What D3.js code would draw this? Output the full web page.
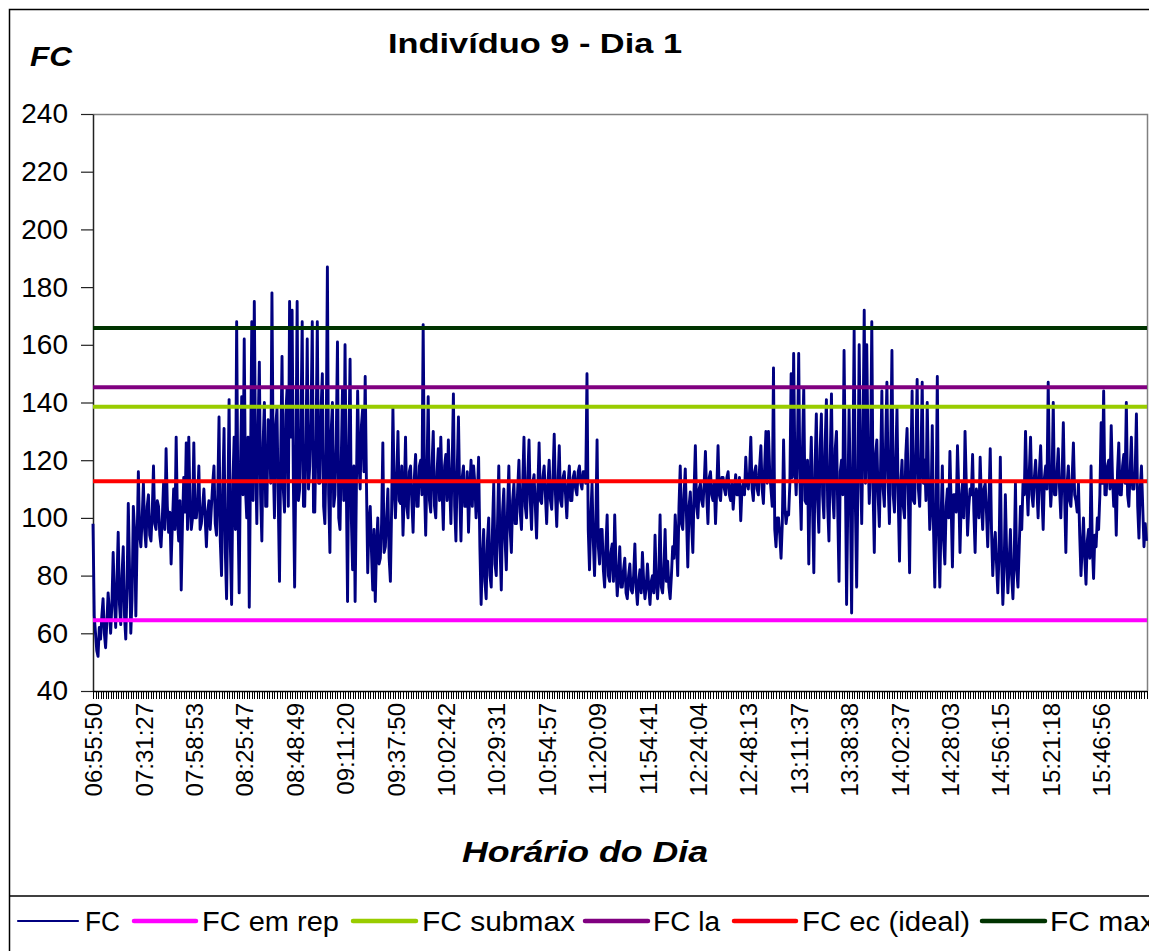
<!DOCTYPE html>
<html>
<head>
<meta charset="utf-8">
<script src="https://cdn.jsdelivr.net/npm/d3@7"></script>
<style>
  html, body { margin: 0; padding: 0; background: #fff; }
  svg { display: block; font-family: "Liberation Sans", Arial, sans-serif; }
</style>
</head>
<body>
<svg id="chart" width="1149" height="951"></svg>
<script>
// Heart rate (FC, bpm) samples across the day, one per category
const fcValues = [
  98,66, 60,54, 52,62, 58,66, 72,60, 55,64, 74,68, 60,70, 88,72, 62,78, 95,70, 63,80, 90,66, 58,76, 105,82, 60,72, 104,96, 66,92, 116,94, 90,100,
  112,96, 90,104, 108,94, 92,102, 118,98, 96,106, 104,94, 90,100, 112,96, 124,104, 95,102, 84,98, 110,96, 128,100, 92,106, 75,98, 114,102, 126,96, 128,104, 96,100,
  126,100, 100,106, 118,96, 98,104, 110,100, 90,102, 106,96, 104,112, 118,98, 94,108, 135,92, 80,110, 131,88, 72,104, 141,90, 70,112, 128,96, 168,104, 74,118, 142,108,
  162,110, 100,128, 69,118, 168,106, 175,122, 98,130, 154,108, 92,126, 140,104, 104,134, 132,112, 178,120, 100,132, 138,106, 78,124, 156,110, 102,136, 145,104, 175,128, 172,112,
  76,120, 175,106, 110,132, 168,104, 104,126, 162,110, 118,134, 168,102, 102,128, 168,112, 112,138, 150,104, 98,124, 187,108, 88,130, 140,104, 108,126, 161,100, 96,120, 145,106,
  160,112, 71,124, 155,100, 82,118, 71,110, 144,120, 110,132, 138,116, 149,112, 81,98, 104,88, 75,96, 71,90, 100,84, 86,98, 126,88, 90,100, 110,86, 78,104, 138,110,
  100,114, 130,106, 105,118, 94,108, 128,104, 100,116, 118,106, 95,114, 122,104, 104,118, 120,108, 167,112, 94,116, 142,106, 102,118, 130,104, 100,116, 124,106, 128,110, 96,118,
  122,106, 127,112, 98,118, 143,104, 92,116, 135,108, 92,114, 118,104, 104,116, 95,110, 120,104, 118,112, 100,108, 121,90, 70,86, 96,78, 72,92, 100,80, 76,96, 112,84,
  80,98, 118,90, 75,102, 110,92, 82,104, 118,96, 88,106, 112,98, 98,110, 120,102, 96,112, 128,104, 100,114, 127,106, 96,112, 115,104, 93,110, 126,106, 105,114, 118,108,
  98,112, 120,106, 103,114, 129,108, 97,112, 125,106, 104,114, 116,108, 100,112, 118,106, 106,114, 116,110, 108,116, 118,112, 110,116, 116,112, 150,96, 82,100, 112,92, 80,98,
  127,90, 84,96, 96,82, 76,90, 101,80, 78,88, 91,78, 101,84, 73,80, 90,76, 76,82, 86,74, 72,80, 84,75, 74,80, 91,76, 70,78, 82,74, 88,78, 72,76,
  84,76, 70,78, 80,74, 94,78, 72,80, 101,76, 74,82, 96,78, 85,76, 72,80, 90,86, 101,92, 80,104, 118,98, 96,108, 117,100, 83,104, 109,98, 88,110, 125,104,
  100,110, 112,106, 104,112, 123,108, 98,114, 116,108, 106,112, 98,110, 125,108, 106,114, 114,110, 108,114, 116,108, 106,112, 103,110, 115,108, 108,114, 99,110, 112,108, 121,112,
  110,116, 128,110, 106,116, 118,110, 108,118, 125,110, 105,118, 130,112, 130,116, 110,104, 152,96, 90,100, 100,94, 86,98, 127,104, 98,102, 101,112, 150,114, 157,118, 108,124,
  157,112, 96,124, 145,106, 105,120, 84,112, 128,104, 81,118, 136,106, 95,124, 136,108, 100,126, 141,104, 92,120, 143,108, 100,124, 130,102, 78,116, 120,108, 158,118, 70,106,
  138,108, 67,118, 165,104, 76,112, 160,120, 98,128, 172,112, 160,124, 105,118, 168,110, 88,122, 127,108, 97,118, 144,110, 104,126, 147,112, 98,124, 158,108, 102,120, 138,106,
  85,112, 120,104, 100,122, 131,108, 81,118, 144,106, 105,124, 148,110, 104,120, 147,112, 120,106, 140,114, 96,104, 132,96, 76,102, 149,94, 76,100, 118,92, 84,104, 110,100,
  123,104, 83,108, 108,102, 125,110, 88,106, 112,100, 130,112, 94,104, 110,108, 122,102, 88,110, 106,100, 121,106, 96,110, 112,102, 90,106, 124,96, 80,90, 95,84, 74,88,
  121,86, 70,82, 108,88, 74,84, 96,80, 72,86, 112,82, 76,90, 104,96, 112,108, 130,112, 101,116, 128,108, 104,114, 120,110, 100,116, 125,108, 96,114, 118,110, 147,116,
  104,112, 140,108, 108,116, 124,110, 100,114, 133,108, 88,112, 118,106, 104,114, 126,108, 106,102, 112,94, 80,90, 100,86, 77,92, 96,86, 118,90, 79,94, 90,100, 96,108,
  133,112, 144,108, 108,118, 120,110, 132,114, 104,112, 94,116, 126,108, 108,118, 122,112, 140,108, 104,116, 128,110, 110,116, 136,104, 93,110, 118,104, 90,98, 92
];

// Time labels shown every 40 categories
const tickLabels = [
  "06:55:50", "07:31:27", "07:58:53", "08:25:47", "08:48:49", "09:11:20", "09:37:50",
  "10:02:42", "10:29:31", "10:54:57", "11:20:09", "11:54:41", "12:24:04", "12:48:13",
  "13:11:37", "13:38:38", "14:02:37", "14:28:03", "14:56:15", "15:21:18", "15:46:56"
];
const labelEvery = 40;
const tickEvery = 2;

// Reference heart-rate levels (constant lines)
const refNames = ["FC em rep", "FC submax", "FC la", "FC ec (ideal)", "FC max"];
const refValues = [64.5, 138.5, 145.3, 112.7, 165.8];
const refColors = ["#FF00FF", "#99CC00", "#800080", "#FF0000", "#003300"];

const yTicks = [40, 60, 80, 100, 120, 140, 160, 180, 200, 220, 240];

const svg = d3.select("#chart");
const plot = { left: 93, right: 1147, top: 114, bottom: 691 };

const n = fcValues.length;
const x = d3.scaleLinear().domain([0, 836]).range([plot.left, plot.right - 0.5]);
const y = d3.scaleLinear().domain([40, 240]).range([plot.bottom, plot.top]);

// Outer chart frame
svg.append("rect")
  .attr("x", 9.5).attr("y", 9.5)
  .attr("width", 1200).attr("height", 1000)
  .attr("fill", "none").attr("stroke", "#000").attr("stroke-width", 1.5);

// Plot area border (top and right)
svg.append("path")
  .attr("d", `M${plot.left},${plot.top + 0.5}H${plot.right + 0.5}V${plot.bottom}`)
  .attr("fill", "none").attr("stroke", "#808080").attr("stroke-width", 1.5);

// Title
svg.append("text")
  .attr("x", 388).attr("y", 53)
  .attr("font-size", 28).attr("font-weight", "bold")
  .attr("textLength", 294).attr("lengthAdjust", "spacingAndGlyphs")
  .text("Indivíduo 9 - Dia 1");

// Y axis title
svg.append("text")
  .attr("x", 30).attr("y", 66)
  .attr("font-size", 27).attr("font-weight", "bold").attr("font-style", "italic")
  .attr("textLength", 42).attr("lengthAdjust", "spacingAndGlyphs")
  .text("FC");

// Y axis
const yAxis = svg.append("g")
  .attr("transform", `translate(${plot.left},0)`)
  .call(d3.axisLeft(y).tickValues(yTicks).tickSize(12).tickPadding(13).tickSizeOuter(0));
yAxis.select(".domain").attr("stroke", "#222").attr("stroke-width", 1.5);
yAxis.selectAll(".tick line").attr("stroke", "#222").attr("stroke-width", 1.2);
yAxis.selectAll(".tick text")
  .attr("font-size", 28).attr("fill", "#000")
  .attr("font-family", "'Liberation Sans', Arial, sans-serif");

// X axis: a tick every 2 categories, time label every 40 categories
const xAxis = svg.append("g")
  .attr("transform", `translate(0,${plot.bottom})`)
  .call(d3.axisBottom(x)
    .tickValues(d3.range(0, n, tickEvery))
    .tickSize(8)
    .tickSizeOuter(0)
    .tickFormat(i => i % labelEvery === 0 ? tickLabels[i / labelEvery] : ""));
xAxis.select(".domain").attr("stroke", "#000").attr("stroke-width", 1.5);
xAxis.selectAll(".tick line")
  .attr("stroke", "#000").attr("stroke-width", 1)
  .attr("shape-rendering", "crispEdges");
xAxis.selectAll(".tick text")
  .attr("font-size", 24).attr("fill", "#000")
  .attr("font-family", "'Liberation Sans', Arial, sans-serif")
  .attr("text-anchor", "end")
  .attr("transform", "rotate(-90)")
  .attr("x", -12).attr("y", 0).attr("dy", "0.36em");

// X axis title
svg.append("text")
  .attr("x", 462).attr("y", 862)
  .attr("font-size", 29).attr("font-weight", "bold").attr("font-style", "italic")
  .attr("textLength", 246).attr("lengthAdjust", "spacingAndGlyphs")
  .text("Horário do Dia");

// Heart rate series
svg.append("path")
  .datum(fcValues)
  .attr("d", d3.line().x((d, i) => x(i)).y(d => y(d)))
  .attr("fill", "none").attr("stroke", "#000080")
  .attr("stroke-width", 2.9).attr("stroke-linejoin", "round");

// Reference lines, drawn over the series
refValues.forEach((v, k) => {
  svg.append("line")
    .attr("x1", plot.left).attr("x2", plot.right)
    .attr("y1", y(v)).attr("y2", y(v))
    .attr("stroke", refColors[k]).attr("stroke-width", 4);
});

// Legend box
svg.append("line")
  .attr("x1", 10).attr("x2", 1149).attr("y1", 896).attr("y2", 896)
  .attr("stroke", "#000").attr("stroke-width", 1.5);

const legendItems = [
  { name: "FC", color: "#000080", width: 2.2, x0: 18, x1: 78, tx: 85, tl: 35 },
  { name: refNames[0], color: refColors[0], width: 4.5, x0: 134, x1: 196, tx: 202, tl: 137 },
  { name: refNames[1], color: refColors[1], width: 4.5, x0: 353, x1: 416, tx: 422, tl: 153 },
  { name: refNames[2], color: refColors[2], width: 4.5, x0: 585, x1: 648, tx: 653, tl: 67 },
  { name: refNames[3], color: refColors[3], width: 4.5, x0: 734, x1: 796, tx: 802, tl: 168 },
  { name: refNames[4], color: refColors[4], width: 4.5, x0: 982, x1: 1045, tx: 1050, tl: 105 }
];
const legend = svg.append("g");
legendItems.forEach(it => {
  legend.append("line")
    .attr("x1", it.x0).attr("x2", it.x1).attr("y1", 921).attr("y2", 921)
    .attr("stroke", it.color).attr("stroke-width", it.width).attr("stroke-linecap", "round");
  legend.append("text")
    .attr("x", it.tx).attr("y", 931)
    .attr("font-size", 27)
    .attr("textLength", it.tl).attr("lengthAdjust", "spacingAndGlyphs")
    .text(it.name);
});
</script>
</body>
</html>
